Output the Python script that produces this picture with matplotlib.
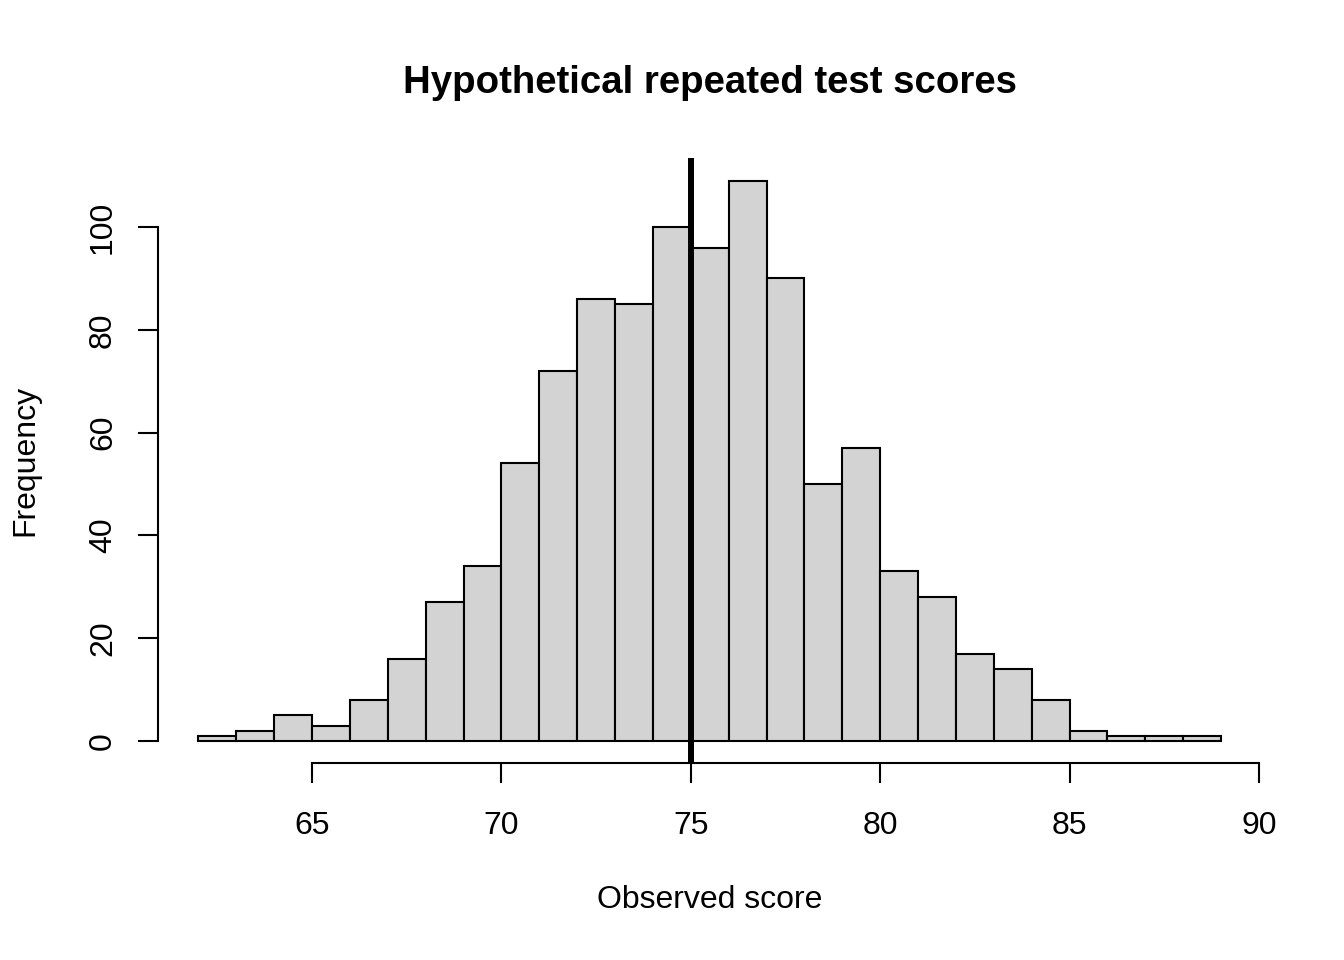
import numpy as np
import matplotlib.pyplot as plt

# bin edges and counts
bordas = np.arange(62, 90)
contagens = [1, 2, 5, 3, 8, 16, 27, 34, 54, 72, 86, 85, 100, 96, 109,
             90, 50, 57, 33, 28, 17, 14, 8, 2, 1, 1, 1]
media_verdadeira = 75
xticks = [65, 70, 75, 80, 85, 90]
yticks = [0, 20, 40, 60, 80, 100]

plt.rcParams['font.family'] = ['Liberation Sans', 'DejaVu Sans']

fig = plt.figure(figsize=(13.44, 9.6), dpi=100)
ax = fig.add_axes([0.1172, 0.2048, 0.9390 - 0.1172, 0.8351 - 0.2048])

larguras = np.diff(bordas)
ax.bar(bordas[:-1], contagens, width=larguras, align='edge',
       color='#d3d3d3', edgecolor='black', linewidth=1.5)
ax.axvline(media_verdadeira, color='black', linewidth=4.3)

# R style plot region: 4% padding around the data range
xr = bordas[-1] - bordas[0]
ax.set_xlim(bordas[0] - 0.04 * xr, bordas[-1] + 0.04 * xr)
yr = max(contagens)
ax.set_ylim(-0.04 * yr, yr * 1.04)

for lado in ['top', 'right']:
    ax.spines[lado].set_visible(False)
ax.spines['left'].set_bounds(yticks[0], yticks[-1])
ax.spines['bottom'].set_bounds(xticks[0], xticks[-1])
for lado in ['left', 'bottom']:
    ax.spines[lado].set_linewidth(1.5)

ax.set_xticks(xticks)
ax.set_yticks(yticks)
ax.set_yticklabels([str(v) for v in yticks], rotation=90, va='center')
ax.tick_params(axis='both', direction='out', length=14.5, width=1.5,
               labelsize=23)
ax.tick_params(axis='x', pad=20)
ax.tick_params(axis='y', pad=14)

ax.set_xlabel('Observed score', fontsize=23, va='center')
ax.set_ylabel('Frequency', fontsize=23, va='center')
ax.xaxis.set_label_coords(0.5, -0.2257)
ax.yaxis.set_label_coords(-0.12, 0.5)
ax.text(0.5, 1.124, 'Hypothetical repeated test scores', transform=ax.transAxes,
        ha='center', va='center', fontsize=27.6, fontweight='bold')

fig.savefig('out.png', dpi=100)
